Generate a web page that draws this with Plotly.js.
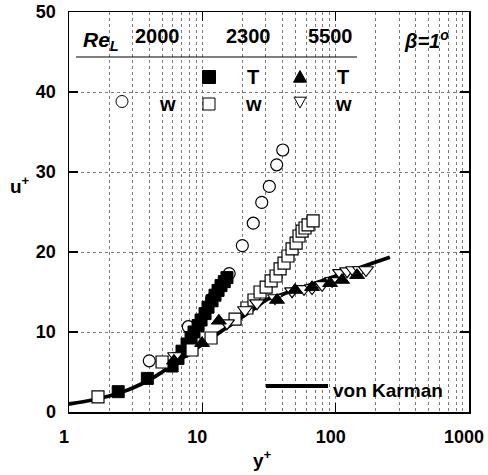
<!DOCTYPE html>
<html>
<head>
<meta charset="utf-8">
<script src="https://cdn.plot.ly/plotly-3.0.1.min.js"></script>
<style>html,body{margin:0;padding:0;background:#fff;}</style>
</head>
<body>
<div id="chart" style="width:488px;height:475px;"></div>
<script>
// von Karman profile
const vkYplus = [1, 1.5, 2, 2.5, 3, 4, 5, 6, 8, 10, 13, 16, 20, 25, 30, 40, 50, 70, 100, 140, 200, 255];
const vkUplus = [1, 1.5, 2, 2.5, 3, 4, 5, 5.9, 7.35, 8.46, 9.77, 10.8, 11.9, 13.0, 14.0, 14.7, 15.3, 16.1, 17.0, 17.85, 18.75, 19.35];

// Re_L = 2000, w (open circles)
const re2000wY = [4.0, 7.85, 11.75, 15.9, 19.95, 24.1, 27.9, 31.8, 36.1, 40.1];
const re2000wU = [6.4, 10.66, 14.1, 17.3, 20.8, 23.6, 26.2, 28.2, 30.9, 32.75];

// Re_L = 2300, T (filled squares)
const re2300TY = [2.34, 3.87, 5.93, 6.57, 7.04, 7.68, 8.23, 8.66, 9.29, 9.78, 10.48, 11.03, 11.83, 12.45, 13.12, 13.81, 14.6, 15.3];
const re2300TU = [2.54, 4.2, 5.75, 6.7, 7.6, 8.5, 9.3, 10.0, 10.8, 11.5, 12.3, 13.1, 13.9, 14.6, 15.2, 15.8, 16.3, 16.8];

// Re_L = 2300, w (open squares)
const re2300wY = [1.65, 4.99, 8.37, 11.62, 17.6, 21.6, 24.4, 27.1, 30.1, 32.8, 35.7, 38.3, 41.0, 43.9, 47.1, 50.5, 53.1, 56.0, 58.9, 62.1, 67.7];
const re2300wU = [1.88, 6.25, 7.75, 9.25, 11.6, 13.0, 14.0, 15.0, 15.6, 16.4, 17.0, 17.9, 18.6, 19.5, 20.4, 21.1, 22.0, 22.6, 23.0, 23.4, 23.9];

// Re_L = 5500, T (filled triangles)
const re5500TY = [6.13, 9.95, 13.3, 36.3, 49.6, 66.5, 90.8, 111.7, 144.7];
const re5500TU = [6.4, 8.6, 11.4, 14.0, 15.25, 15.6, 16.1, 16.5, 17.1];

// Re_L = 5500, w (open down-triangles)
const re5500wY = [6.24, 15.3, 20.9, 25.7, 35.1, 47.1, 57.9, 66.5, 79.1, 94.0, 107.9, 121.8, 135.1, 152.4, 169.0];
const re5500wU = [7.0, 11.1, 12.75, 13.6, 14.25, 15.1, 15.4, 15.5, 15.9, 16.4, 17.4, 17.6, 17.75, 17.75, 17.75];

// axis ticks
const xTickVals = [1, 10, 100, 1000];
const xTickText = ['1', '10', '100', '1000'];
const yTickVals = [0, 10, 20, 30, 40, 50];
const yTickText = ['0', '10', '20', '30', '40', '50'];

const minorX = [];
[1, 10, 100].forEach(d => { for (let k = 2; k <= 9; k++) minorX.push(k * d); });

const FONT = 'Liberation Sans, Arial, Helvetica, sans-serif';
const gridC = '#7a7a7a';

const traces = [
  {x: vkYplus, y: vkUplus, mode: 'lines', line: {color: '#000', width: 3.8, shape: 'spline'}, hoverinfo: 'skip'},
  {x: re2000wY, y: re2000wU, mode: 'markers', marker: {symbol: 'circle', size: 12, color: '#fff', line: {color: '#000', width: 1.2}}},
  {x: re2300TY, y: re2300TU, mode: 'markers', marker: {symbol: 'square', size: 12, color: '#000', line: {color: '#000', width: 1}}},
  {x: re2300wY, y: re2300wU, mode: 'markers', marker: {symbol: 'square', size: 12, color: '#fff', line: {color: '#000', width: 1.2}}},
  {x: re5500wY, y: re5500wU, mode: 'markers', marker: {symbol: 'triangle-down', size: 13, color: '#fff', line: {color: '#000', width: 1.2}}},
  {x: re5500TY, y: re5500TU, mode: 'markers', marker: {symbol: 'triangle-up', size: 13, color: '#000', line: {color: '#000', width: 1}}}
];

// paper coords helpers (plot area 400x400 px, left 69, top 12)
const px = v => (v - 69) / 400;
const py = v => (412 - v) / 400;

function txt(text, x, y, size, anchor) {
  return {text: text, xref: 'paper', yref: 'paper', x: px(x), y: py(y), showarrow: false,
          xanchor: anchor || 'center', yanchor: 'middle',
          font: {family: FONT, size: size || 19, color: '#000', weight: 'bold'}};
}

const annotations = [
  txt('<i>Re<sub>L</sub></i>', 81, 41, 21, 'left'),
  txt('2000', 157, 36, 20),
  txt('2300', 248, 36, 20),
  txt('5500', 330, 36, 20),
  txt('<i>β=1<sup>o</sup></i>', 402, 40, 20, 'left'),
  txt('T', 253, 77, 20),
  txt('T', 343, 77, 20),
  txt('w', 167, 104, 20),
  txt('w', 253, 104, 20),
  txt('w', 343, 104, 20),
  txt('von Karman', 331, 390, 19, 'left'),
  txt('u<sup>+</sup>', 20, 185, 19),
  txt('y<sup>+</sup>', 262, 459, 19)
];

function sq(cx, cy, h, filled) {
  return {type: 'rect', xref: 'paper', yref: 'paper', x0: px(cx - h), x1: px(cx + h), y0: py(cy + h), y1: py(cy - h),
          line: {color: '#000', width: 1}, fillcolor: filled ? '#000' : '#fff', layer: 'above'};
}
function tri(cx, cy, h, up, filled) {
  const a = up ? [[cx - h, cy + h * 0.8], [cx + h, cy + h * 0.8], [cx, cy - h]] : [[cx - h, cy - h * 0.8], [cx + h, cy - h * 0.8], [cx, cy + h]];
  const p = 'M ' + a.map(q => px(q[0]) + ' ' + py(q[1])).join(' L ') + ' Z';
  return {type: 'path', xref: 'paper', yref: 'paper', path: p, line: {color: '#000', width: 1}, fillcolor: filled ? '#000' : '#fff', layer: 'above'};
}

const shapes = [
  {type: 'line', xref: 'paper', yref: 'paper', x0: px(76), x1: px(357), y0: py(57), y1: py(57), line: {color: '#000', width: 1.2}},
  sq(209, 77, 6.5, true),
  sq(209, 104, 6, false),
  tri(300, 77, 6.5, true, true),
  tri(300, 102, 6, false, false),
  {type: 'circle', xref: 'paper', yref: 'paper', x0: px(116), x1: px(128), y0: py(107.5), y1: py(95.5), line: {color: '#000', width: 1}, fillcolor: '#fff'},
  {type: 'line', xref: 'paper', yref: 'paper', x0: px(266), x1: px(328), y0: py(386), y1: py(386), line: {color: '#000', width: 3.8}}
];

const axisCommon = {
  showline: true, linecolor: '#000', linewidth: 1.5, mirror: 'ticks',
  ticks: 'inside', ticklen: 9, tickwidth: 1.5, tickcolor: '#000',
  showgrid: true, gridcolor: gridC, gridwidth: 1, griddash: '3px,3px',
  zeroline: false,
  tickfont: {family: FONT, size: 18, color: '#000', weight: 'bold'}
};

const layout = {
  width: 488, height: 475,
  margin: {l: 69, r: 19, t: 12, b: 63},
  paper_bgcolor: '#fff', plot_bgcolor: '#fff',
  showlegend: false,
  xaxis: Object.assign({}, axisCommon, {
    type: 'log', range: [0, 3], tickmode: 'array', tickvals: xTickVals, ticktext: xTickText,
    ticklabelshift: -5, ticklabelstandoff: 8,
    minor: {tickmode: 'array', tickvals: minorX, showgrid: true, gridcolor: gridC, gridwidth: 1, griddash: '3px,3px', ticks: ''}
  }),
  yaxis: Object.assign({}, axisCommon, {
    range: [0, 50], tickmode: 'array', tickvals: yTickVals, ticktext: yTickText,
    ticklabelstandoff: 8
  }),
  annotations: annotations,
  shapes: shapes
};

Plotly.newPlot('chart', traces, layout, {displayModeBar: false, staticPlot: true});
</script>
</body>
</html>
